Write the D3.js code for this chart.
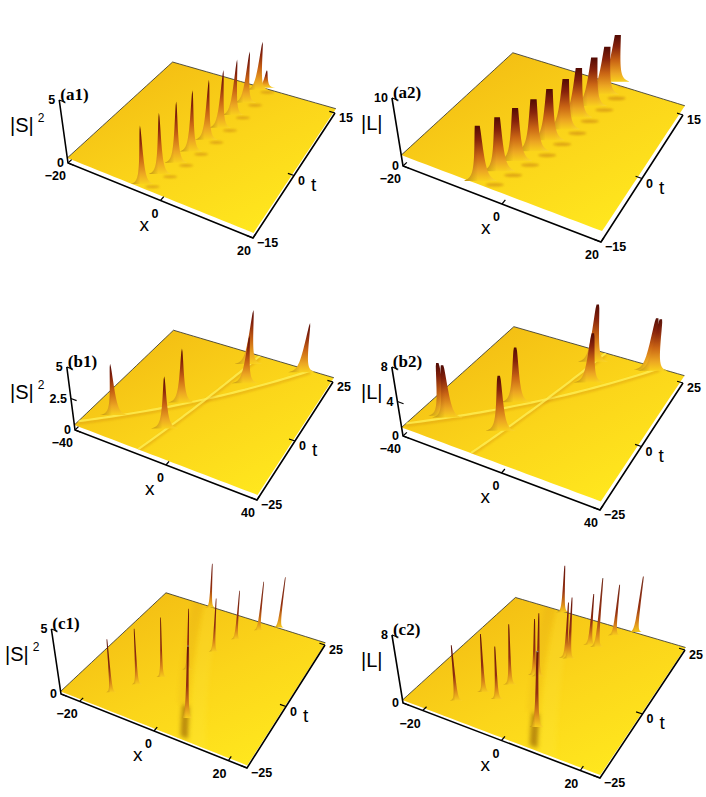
<!doctype html>
<html lang="en">
<head>
<meta charset="UTF-8">
<title>Rogue waves and line solitons</title>
<style>
  body { margin: 0; background: #fff; }
</style>
</head>
<body>
<div class="container"></div>

<script src="https://d3js.org/d3.v7.min.js"></script>

<script>
  const SVG_WIDTH = 706;
  const SVG_HEIGHT = 797;

  // ---- data: [x, t, amplitude above background] ----
  const a1Peaks = [[-4.2, -14.5, 4.8], [-2.8, -11.0, 5.1], [-1.8, -7.4, 5.2], [-0.9, -3.9, 5.3],
    [0.0, -0.3, 5.3], [0.6, 3.2, 5.2], [1.0, 6.8, 5.1], [1.3, 10.3, 4.8], [1.6, 13.9, 4.6], [2.6, 15.0, 1.7]];
  const a2Peaks = [[-4.5, -14.5, 8.9], [-3.0, -11.2, 9.4], [-1.8, -7.9, 9.8], [-0.4, -4.7, 10.2],
    [0.5, -1.4, 10.4], [1.5, 1.9, 10.4], [1.9, 5.2, 10.3], [2.8, 8.5, 10.4], [3.3, 11.7, 10.2], [3.2, 15.0, 9.9]];
  const b1Peaks = [[-30, -16.2, 4.3], [-8.9, -14.3, 4.4], [-11, -2.6, 4.75], [1.6, 20, 5.1], [6.4, 12.5, 4.4], [25.6, 23, 4.7]];
  const b2Peaks = [[-31, -16.2, 6.5], [-29.2, -16.2, 6.4], [-8.9, -14.3, 6.8], [-12.5, -2.6, 7.0],
    [1.6, 20, 7.9], [6.4, 12.5, 6.6], [25, 23, 7.2], [26.6, 23, 7.2]];
  const c1Peaks = [[-14.9, -18.5, 4.2], [-11.25, -12.25, 4.5], [-7.45, -6.5, 4.9], [-3.25, -0.5, 5.1],
    [5.35, -17.75, 12], [-10.8, 24.5, 4.0], [-0.85, 9, 4.6], [2, 16, 4.3], [5.8, 21.75, 4.4], [10.3, 25, 4.6]];
  const c2Peaks = [[-14.9, -18.5, 6.7], [-11.25, -12.25, 7.2], [-7.4, -13, 6.5], [-7.45, -6.5, 7.6],
    [-4.3, -0.5, 7.2], [-3.25, -0.5, 8.1], [5.35, -17.75, 16], [-10.8, 24.5, 6.5], [-0.85, 9, 7.3],
    [0, 9, 8.1], [2, 16, 6.9], [4, 16, 9.3], [5.8, 21.75, 7.0], [10.3, 25, 7.8]];

  // line solitons [xStart, tStart, xEnd, tEnd]
  const bRidges = [[-40, -23, 28.2, 25], [-12.2, -25, 3.1, 25]];
  const cKink = [8.9, -25, -13.4, 25];

  // background levels of the six surfaces
  const backgrounds = [0.4, 1.6, 0.4, 1.0, 0.2, 0.35];

  const panelNames = ['(a1)', '(a2)', '(b1)', '(b2)', '(c1)', '(c2)'];
  const xTicksA = [-20, 0, 20], tTicksA = [-15, 0, 15];
  const xTicksB = [-40, 0, 40], tTicksB = [-25, 0, 25];
  const xTicksC = [-20, 0, 20], tTicksC = [-25, 0, 25];
  const zTicks = [[0, 5], [0, 10], [0, 2.5, 5], [0, 4, 8], [0, 5], [0, 8]];

  // ---- layout ----
  const panels = [
    { ox: 0, oy: 0, xDom: [-20, 20], tDom: [-15, 15], zMax: 5, zClip: Infinity, zLen: 63,
      corners: [[68, 163], [253, 238], [335, 113], [172.6, 66.3]], peaks: a1Peaks, xTicks: xTicksA, tTicks: tTicksA,
      yLabel: 'S', labelX: 10, shape: { a: 2.0, top: 0, max: 12, s0: 0.03, grad: 'spike' }, dip: [10, 1, 7, 1.4] },
    { ox: 353, oy: 0, xDom: [-20, 20], tDom: [-15, 15], zMax: 10, zClip: 10, zLen: 68,
      corners: [[50, 166], [248, 242], [330, 115], [160, 62]], peaks: a2Peaks, xTicks: xTicksA, tTicks: tTicksA,
      yLabel: 'L', labelX: 8, shape: { a: 2.9, top: 1.8, max: 16, s0: 0.03, grad: 'spike' }, dip: [14, 2, 9, 1.8] },
    { ox: 0, oy: 270, xDom: [-40, 40], tDom: [-25, 25], zMax: 5, zClip: Infinity, zLen: 63,
      corners: [[75, 160], [257, 230], [333, 112], [173.5, 64.5]], peaks: b1Peaks, xTicks: xTicksB, tTicks: tTicksB,
      yLabel: 'S', labelX: 10, shape: { a: 2.4, top: 0, max: 14, s0: 0.03, grad: 'spike' }, ridges: bRidges },
    { ox: 353, oy: 270, xDom: [-40, 40], tDom: [-25, 25], zMax: 8, zClip: Infinity, zLen: 69,
      corners: [[50, 166], [247, 240], [330, 113], [161, 64]], peaks: b2Peaks, xTicks: xTicksB, tTicks: tTicksB,
      yLabel: 'L', labelX: 8, shape: { a: 2.5, top: 1.2, max: 15, s0: 0.03, grad: 'spike' }, ridges: bRidges },
    { ox: 0, oy: 540, xDom: [-25, 25], tDom: [-25, 25], zMax: 5, zClip: 6.0, zLen: 65,
      corners: [[61, 154], [247, 228], [325, 105], [166, 55]], peaks: c1Peaks, xTicks: xTicksC, tTicks: tTicksC,
      yLabel: 'S', labelX: 5, shape: { a: 0.55, top: 0.3, max: 7, s0: 0.012, grad: 'needle' }, kink: cKink },
    { ox: 353, oy: 540, xDom: [-25, 25], tDom: [-25, 25], zMax: 8, zClip: 9.6, zLen: 68,
      corners: [[50, 163], [247, 238], [332, 110], [162.5, 60]], peaks: c2Peaks, xTicks: xTicksC, tTicks: tTicksC,
      yLabel: 'L', labelX: 8, shape: { a: 0.7, top: 0.4, max: 8, s0: 0.012, grad: 'needle' }, kink: cKink }
  ];

  const svg = d3.select('.container')
    .append('svg')
    .attr('width', SVG_WIDTH)
    .attr('height', SVG_HEIGHT)
    .style('font-family', '"Liberation Sans", Arial, sans-serif');

  const defs = svg.append('defs');

  function gradient(id, stops, vertical = true) {
    const gr = defs.append('linearGradient').attr('id', id)
      .attr('x1', 0).attr('y1', 0).attr('x2', vertical ? 0 : 1).attr('y2', vertical ? 1 : 0);
    stops.forEach(([o, c, op = 1]) => gr.append('stop').attr('offset', o).attr('stop-color', c).attr('stop-opacity', op));
  }
  gradient('spike', [[0, '#520a04'], [0.25, '#86220b'], [0.55, '#c96414'], [0.82, '#eca622'], [1, '#f9d01c']]);
  gradient('needle', [[0, '#64130a'], [0.55, '#953010'], [0.82, '#d9861a'], [1, '#f8cc1c']]);
  gradient('shadeH', [[0, '#3a0800', 0.3], [0.42, '#3a0800', 0], [0.7, '#fff3a0', 0], [1, '#fff3a0', 0.15]], false);

  [['blur2', 2], ['blur15', 1.5], ['blur1', 1.1], ['blur06', 0.6]].forEach(([id, sd]) => {
    defs.append('filter').attr('id', id).attr('x', '-50%').attr('y', '-50%').attr('width', '200%').attr('height', '200%')
      .append('feGaussianBlur').attr('stdDeviation', sd);
  });

  const fmt = d => (d < 0 ? '\u2212' + Math.abs(d) : String(d));
  const line = d3.line();

  function makeProjection(p) {
    const u = d3.scaleLinear().domain(p.xDom).range([0, 1]);
    const v = d3.scaleLinear().domain(p.tDom).range([0, 1]);
    const z = d3.scaleLinear().domain([0, p.zMax]).range([0, p.zLen]);
    const [FL, FR, BR, BL] = p.corners;
    return (x, t, zz = 0) => {
      const a = u(x), b = v(t);
      const bx = FL[0] * (1 - a) * (1 - b) + FR[0] * a * (1 - b) + BR[0] * a * b + BL[0] * (1 - a) * b;
      const by = FL[1] * (1 - a) * (1 - b) + FR[1] * a * (1 - b) + BR[1] * a * b + BL[1] * (1 - a) * b;
      const h = z(zz) * (1 - 0.15 * b);
      return [bx + (bx - 175) * 0.0013 * h, by - h];
    };
  }

  function drawPanel(p, idx) {
    const g = svg.append('g').attr('transform', `translate(${p.ox},${p.oy})`);
    const proj = makeProjection(p);
    const bg = backgrounds[idx];
    const [x0, x1] = p.xDom, [t0, t1] = p.tDom;
    const edge = (xa, ta, xb, tb, z, n = 24) =>
      d3.range(n + 1).map(i => proj(xa + (xb - xa) * i / n, ta + (tb - ta) * i / n, z));

    // surface
    const gBL = proj(x0, t1, bg), gFR = proj(x1, t0, bg);
    const pg = defs.append('linearGradient').attr('id', 'plane' + idx).attr('gradientUnits', 'userSpaceOnUse')
      .attr('x1', gBL[0]).attr('y1', gBL[1]).attr('x2', gFR[0]).attr('y2', gFR[1]);
    pg.append('stop').attr('offset', 0).attr('stop-color', '#f4c014');
    pg.append('stop').attr('offset', 0.5).attr('stop-color', '#fbd51a');
    pg.append('stop').attr('offset', 1).attr('stop-color', '#ffe71e');

    const outline = [...edge(x0, t0, x1, t0, bg), ...edge(x1, t0, x1, t1, bg),
      ...edge(x1, t1, x0, t1, bg), ...edge(x0, t1, x0, t0, bg)];
    g.append('path').attr('d', line(outline) + 'Z').attr('fill', `url(#plane${idx})`);
    g.append('path').attr('d', line([...edge(x0, t0, x0, t1, bg), ...edge(x0, t1, x1, t1, bg)]))
      .attr('fill', 'none').attr('stroke', '#2b2b2b').attr('stroke-width', 0.8);

    const clipId = 'clip' + idx;
    defs.append('clipPath').attr('id', clipId).append('path').attr('d', line(outline) + 'Z');
    const onPlane = g.append('g').attr('clip-path', `url(#${clipId})`);

    // line solitons (b) as raised light stripes
    (p.ridges || []).forEach(([xa, ta, xb, tb]) => {
      const pts = edge(xa, ta, xb, tb, bg, 40);
      onPlane.append('path').attr('d', line(pts.map(([x, y]) => [x, y + 2])))
        .attr('fill', 'none').attr('stroke', '#d28c10').attr('stroke-width', 2.6).attr('opacity', 0.42)
        .attr('filter', 'url(#blur1)');
      onPlane.append('path').attr('d', line(pts))
        .attr('fill', 'none').attr('stroke', '#fff25a').attr('stroke-width', 2.2).attr('opacity', 0.75)
        .attr('filter', 'url(#blur06)');
    });

    // kink (c): shadow next to the central peak, faint light side
    if (p.kink) {
      const [xa, ta, xb, tb] = p.kink;
      const xAt = t => xa + (xb - xa) * (t - ta) / (tb - ta);
      const band = (o1, o2, tA, tB) => {
        const ts = d3.range(31).map(i => tA + (tB - tA) * i / 30);
        return [...ts.map(t => proj(xAt(t) + o1, t, bg)), ...ts.reverse().map(t => proj(xAt(t) + o2, t, bg))];
      };
      onPlane.append('path').attr('d', line(band(-1.8, 0.2, -24, -13)) + 'Z').attr('fill', '#7a3e06')
        .attr('opacity', 0.5).attr('filter', 'url(#blur2)');
      onPlane.append('path').attr('d', line(band(-3, 0, -13, 26)) + 'Z').attr('fill', '#c47812')
        .attr('opacity', 0.1).attr('filter', 'url(#blur2)');
      onPlane.append('path').attr('d', line(band(0.6, 5, -26, 26)) + 'Z').attr('fill', '#fff25a')
        .attr('opacity', 0.14).attr('filter', 'url(#blur2)');
    }

    // dips beside the peaks
    if (p.dip) {
      const [dx, dy, rx, ry] = p.dip;
      p.peaks.forEach(([x, t, h]) => {
        if (h < 3) return;
        const [bx, by] = proj(x, t, bg);
        onPlane.append('ellipse').attr('cx', bx + dx).attr('cy', by + dy).attr('rx', rx).attr('ry', ry)
          .attr('fill', '#b9650e').attr('opacity', 0.42).attr('filter', 'url(#blur1)');
      });
    }

    // peaks, back to front
    const sorted = p.peaks.slice().sort((A, B) => proj(A[0], A[1], bg)[1] - proj(B[0], B[1], bg)[1]);
    const sh = p.shape;
    sorted.forEach(([x, t, h]) => {
      const sTop = Math.min(1, (p.zClip - bg) / h);
      const n = 56;
      const left = [], right = [];
      for (let i = 0; i <= n; i++) {
        const s = sh.s0 * Math.pow(sTop / sh.s0, i / n);
        const r = Math.min(sh.a * Math.sqrt(Math.max(1 / s - 1, 0)) + sh.top, sh.max);
        const [cx, cy] = proj(x, t, bg + s * h);
        left.push([cx - r, cy]);
        right.push([cx + r, cy]);
      }
      const d = line([...left, ...right.reverse()]) + 'Z';
      g.append('path').attr('d', d).attr('fill', `url(#${sh.grad})`);
      g.append('path').attr('d', d).attr('fill', 'url(#shadeH)');
      if (sTop < 1 && sh.grad === 'needle') {
        const top = left[left.length - 1], top2 = right[0];
        g.append('line').attr('x1', top[0]).attr('y1', top[1]).attr('x2', top2[0]).attr('y2', top2[1])
          .attr('stroke', '#8a8078').attr('stroke-width', 1.2);
      }
    });

    // axes
    const axisPts = [proj(x0, t0, p.zMax), proj(x0, t0, 0), proj(x1, t0, 0), proj(x1, t1, 0)];
    g.append('path').attr('d', line(axisPts)).attr('fill', 'none')
      .attr('stroke', '#000').attr('stroke-width', 1.6).attr('stroke-linejoin', 'miter');

    const tickG = g.append('g').attr('stroke', '#000').attr('stroke-width', 1.2);
    const labG = g.append('g').attr('font-size', 12.5).attr('font-weight', 'bold').attr('fill', '#000');

    p.xTicks.forEach(x => {
      const a = proj(x, t0, 0), b = proj(x, t0 + 0.035 * (t1 - t0), 0);
      tickG.append('line').attr('x1', a[0]).attr('y1', a[1]).attr('x2', b[0]).attr('y2', b[1]);
      labG.append('text').attr('x', a[0] - 2).attr('y', a[1] + 17).attr('text-anchor', 'end').text(fmt(x));
    });
    p.tTicks.forEach(t => {
      const a = proj(x1, t, 0), b = proj(x1 - 0.035 * (x1 - x0), t, 0);
      tickG.append('line').attr('x1', a[0]).attr('y1', a[1]).attr('x2', b[0]).attr('y2', b[1]);
      labG.append('text').attr('x', a[0] + 4).attr('y', a[1] + 9).text(fmt(t));
    });
    zTicks[idx].forEach(z => {
      const a = proj(x0, t0, z), b = proj(x0 + 0.03 * (x1 - x0), t0, z);
      tickG.append('line').attr('x1', a[0]).attr('y1', a[1]).attr('x2', b[0]).attr('y2', b[1]);
      labG.append('text').attr('x', a[0] - 4).attr('y', a[1] + 4).attr('text-anchor', 'end').text(fmt(z));
    });

    // axis labels
    const xZero = proj(0, t0, 0), tZero = proj(x1, 0, 0), zTop = proj(x0, t0, p.zMax);
    g.append('text').attr('x', xZero[0] - 21).attr('y', xZero[1] + 30).attr('font-size', 19).text('x');
    g.append('text').attr('x', tZero[0] + 17).attr('y', tZero[1] + 15).attr('font-size', 19).text('t');
    const yl = g.append('text').attr('x', p.labelX).attr('y', zTop[1] + 32).attr('font-size', 20)
      .text(`|${p.yLabel}|`);
    if (p.yLabel === 'S') {
      yl.append('tspan').attr('dx', 4).attr('dy', -10).attr('font-size', 12).text('2');
    }
    g.append('text').attr('x', zTop[0] + 1).attr('y', zTop[1])
      .attr('font-family', '"Liberation Serif", "Times New Roman", serif')
      .attr('font-weight', 'bold').attr('font-size', 17).text(panelNames[idx]);
  }

  panels.forEach(drawPanel);
</script>
</body>
</html>
